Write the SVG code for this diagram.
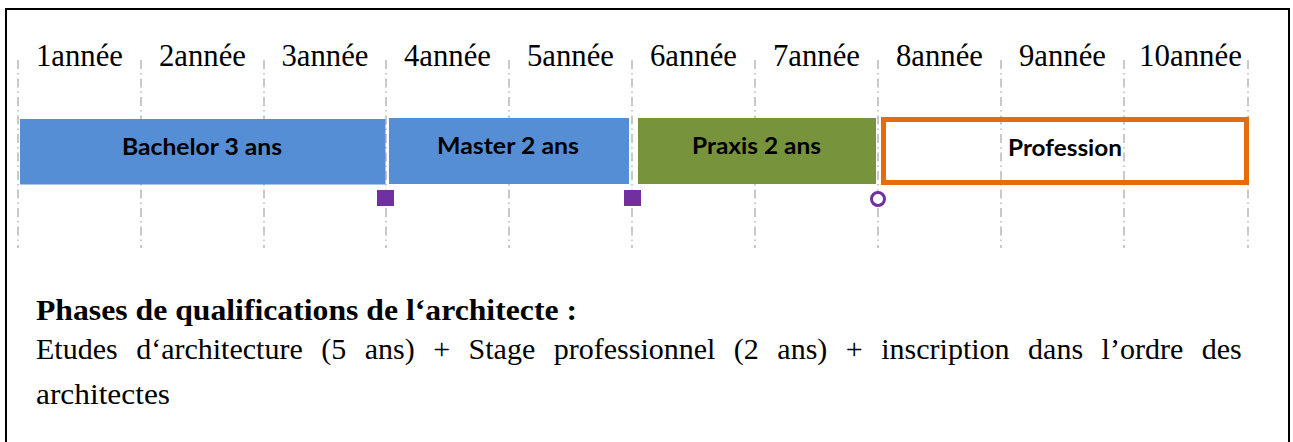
<svg xmlns="http://www.w3.org/2000/svg" width="1293" height="442" viewBox="0 0 1293 442">
<style>
.yr{font-family:"Liberation Serif","Times New Roman",serif;font-size:32px;fill:#000;text-anchor:middle}
.grid{stroke:#a6a6a6;stroke-width:1.2;stroke-dasharray:9,4,1.5,4;fill:none}
.bl{font-family:Lato,"Liberation Sans",sans-serif;font-weight:bold;font-size:23px;fill:#000;text-anchor:middle}
.body{font-family:"Liberation Serif","Times New Roman",serif;font-size:30px;fill:#000}
.mk{fill:#7030a0}
</style>
<rect x="6" y="9" width="1283" height="445" fill="#fff" stroke="#000" stroke-width="2"/>
<g id="grid">
<line class="grid" x1="18" y1="60" x2="18" y2="248"/>
<line class="grid" x1="141" y1="60" x2="141" y2="248"/>
<line class="grid" x1="264" y1="60" x2="264" y2="248"/>
<line class="grid" x1="386" y1="60" x2="386" y2="248"/>
<line class="grid" x1="509" y1="60" x2="509" y2="248"/>
<line class="grid" x1="632" y1="60" x2="632" y2="248"/>
<line class="grid" x1="755" y1="60" x2="755" y2="248"/>
<line class="grid" x1="878" y1="60" x2="878" y2="248"/>
<line class="grid" x1="1001" y1="60" x2="1001" y2="248"/>
<line class="grid" x1="1124" y1="60" x2="1124" y2="248"/>
<line class="grid" x1="1248" y1="60" x2="1248" y2="248"/>
</g>
<g id="years">
<text class="yr" x="79.5" y="66" textLength="87" lengthAdjust="spacingAndGlyphs">1année</text>
<text class="yr" x="202.5" y="66" textLength="87" lengthAdjust="spacingAndGlyphs">2année</text>
<text class="yr" x="325" y="66" textLength="87" lengthAdjust="spacingAndGlyphs">3année</text>
<text class="yr" x="447.5" y="66" textLength="87" lengthAdjust="spacingAndGlyphs">4année</text>
<text class="yr" x="570.5" y="66" textLength="87" lengthAdjust="spacingAndGlyphs">5année</text>
<text class="yr" x="693.5" y="66" textLength="87" lengthAdjust="spacingAndGlyphs">6année</text>
<text class="yr" x="816.5" y="66" textLength="87" lengthAdjust="spacingAndGlyphs">7année</text>
<text class="yr" x="939.5" y="66" textLength="87" lengthAdjust="spacingAndGlyphs">8année</text>
<text class="yr" x="1062.5" y="66" textLength="87" lengthAdjust="spacingAndGlyphs">9année</text>
<text class="yr" x="1190.5" y="66" textLength="103" lengthAdjust="spacingAndGlyphs">10année</text>
</g>
<g id="bachelor">
<rect x="20" y="119" width="365.5" height="65.5" fill="#558ed5"/>
<text class="bl" x="202" y="155" textLength="160" lengthAdjust="spacingAndGlyphs">Bachelor 3 ans</text>
</g>
<g id="master">
<rect x="389" y="118" width="240" height="66" fill="#558ed5"/>
<text class="bl" x="508" y="154" textLength="142" lengthAdjust="spacingAndGlyphs">Master 2 ans</text>
</g>
<g id="praxis">
<rect x="638" y="118" width="238" height="66" fill="#77933c"/>
<text class="bl" x="756.5" y="154" textLength="129" lengthAdjust="spacingAndGlyphs">Praxis 2 ans</text>
</g>
<g id="profession">
<rect x="883.5" y="119.5" width="363" height="63" fill="none" stroke="#e46c0a" stroke-width="5"/>
<text class="bl" x="1065" y="155.5" textLength="114" lengthAdjust="spacingAndGlyphs">Profession</text>
</g>
<g id="markers">
<rect class="mk" x="377" y="190" width="17" height="16"/>
<rect class="mk" x="624" y="190" width="17" height="16"/>
<circle cx="878" cy="199" r="6.5" fill="#fff" stroke="#7030a0" stroke-width="3"/>
</g>
<g id="caption">
<text class="body" x="36" y="319.5" font-weight="bold" textLength="541" lengthAdjust="spacingAndGlyphs">Phases de qualifications de l‘architecte :</text>
<text class="body" x="36" y="359" word-spacing="11">Etudes d‘architecture (5 ans) + Stage professionnel (2 ans) + inscription dans l’ordre des</text>
<text class="body" x="36" y="404" textLength="134" lengthAdjust="spacingAndGlyphs">architectes</text>
</g>
</svg>
